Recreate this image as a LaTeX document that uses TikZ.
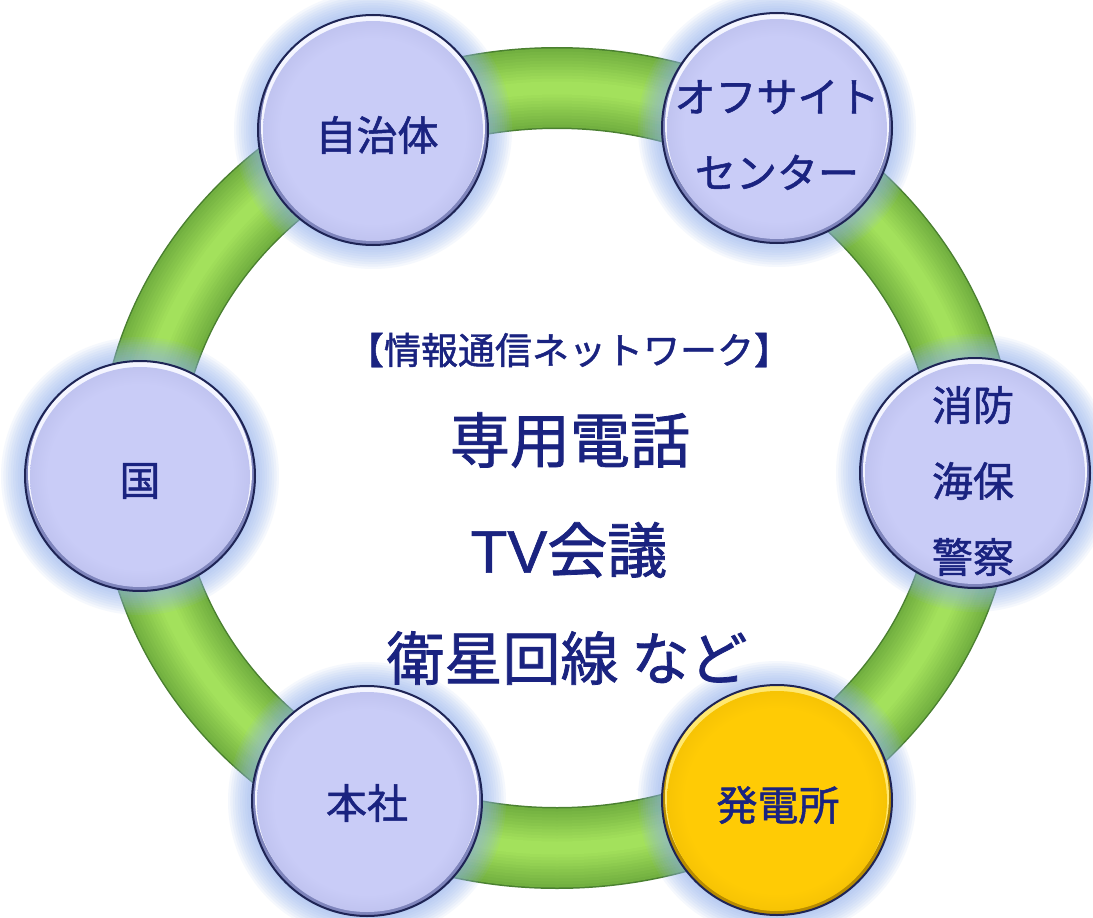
\documentclass[tikz,border=0pt]{standalone}
\usepackage{fontspec}
\newfontfamily\jp[FakeBold=1.3]{Noto Sans CJK JP}
\newfontfamily\lat[FakeBold=1.0]{Liberation Sans}
\definecolor{navy}{HTML}{1A2380}
\definecolor{lav}{HTML}{C9CCF7}
\definecolor{lavhi}{HTML}{F4F5FF}
\definecolor{lavsh}{HTML}{7F85BC}
\definecolor{gold}{HTML}{FFCB05}
\definecolor{goldhi}{HTML}{FFE870}
\definecolor{goldsh}{HTML}{B88C00}
\definecolor{halo}{HTML}{8FB0EE}
\definecolor{rimdark}{HTML}{1E2455}
\definecolor{gEdge}{HTML}{4A8030}
\definecolor{gA}{HTML}{72B040}
\definecolor{gD}{HTML}{A4E25C}
\pgfdeclareradialshading{lavbody}{\pgfpoint{0bp}{0bp}}{color(0bp)=(lav); color(21bp)=(lav); color(25bp)=(lav!88!lavsh); color(50bp)=(lav!88!lavsh)}
\pgfdeclareradialshading{goldbody}{\pgfpoint{0bp}{0bp}}{color(0bp)=(gold); color(21bp)=(gold); color(25bp)=(gold!88!goldsh); color(50bp)=(gold!88!goldsh)}
\tikzset{
  lbl/.style={inner sep=0pt, text=navy, align=center, font=\jp\fontsize{41}{76}\selectfont},
  ctext/.style={inner sep=0pt, text=navy, align=center},
}
% #1 name, #2 x, #3 y, #4 colour prefix, #5 text position, #6 text
\newcommand{\mybub}[6]{%
  \foreach \k in {1,...,10} {\fill[halo, opacity=0.085] (#2,#3) circle[radius=115pt+2.4pt*\k];}
  \fill[#4sh] (#2,#3) circle[radius=115pt];
  \fill[#4hi] (#2,#3-3) circle[radius=112pt];
  \shade[shading=#4body] (#2,#3+1) circle[radius=110pt];
  \draw[rimdark, line width=2pt] (#2,#3) circle[radius=115pt];
  \node[lbl] (#1) at (#5) {#6};
}
\begin{document}
\begin{tikzpicture}[x=1pt, y=-1pt]
\useasboundingbox (0,0) rectangle (1093,918);
\fill[white] (0,0) rectangle (1093,918);
% green ring
\coordinate (ringc) at (557,468);
\draw[gEdge, line width=82pt] (ringc) ellipse[x radius=418pt, y radius=380pt];
\foreach \i in {0,...,11} {
  \pgfmathsetmacro\w{79-6*\i}
  \pgfmathtruncatemacro\m{9*\i}
  \draw[gD!\m!gA, line width=\w pt] (ringc) ellipse[x radius=418pt, y radius=380pt];
}
% bubbles
\mybub{jichitai}{373}{130}{lav}{377,135}{自治体}
\mybub{offsite}{777}{128}{lav}{777,135}{オフサイト\\センター}
\mybub{kuni}{140}{476}{lav}{140,481}{国}
\mybub{shobo}{975}{473}{lav}{973,481}{消防\\海保\\警察}
\mybub{honsha}{367}{801}{lav}{367,803}{本社}
\mybub{hatsuden}{777}{800}{gold}{778,805}{発電所}
% centre text
\node[ctext, font=\jp\fontsize{37}{40}\selectfont] (title) at (569,350) {【情報通信ネットワーク】};
\node[ctext, font=\jp\fontsize{60}{66}\selectfont] (l1) at (570,440) {専用電話};
\node[ctext, font=\jp\fontsize{60}{66}\selectfont] (l2) at (569,550) {{\lat TV}会議};
\node[ctext, font=\jp\fontsize{58}{66}\selectfont] (l3) at (567,658) {衛星回線 など};
\end{tikzpicture}
\end{document}
